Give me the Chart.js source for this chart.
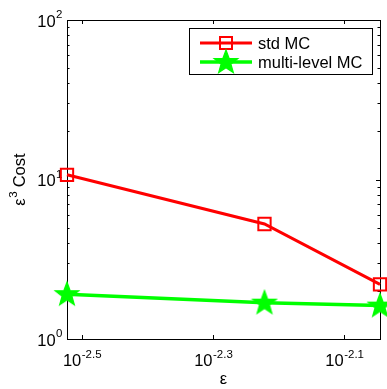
<!DOCTYPE html>
<html>
<head>
<meta charset="utf-8">
<script src="https://cdn.jsdelivr.net/npm/chart.js@4/dist/chart.umd.min.js"></script>
<style>
  html, body { margin: 0; padding: 0; background: #fff; }
  canvas { display: block; }
</style>
</head>
<body>
<canvas id="chart" width="387" height="389"></canvas>
<script>
// data
const epsValues = [0.003, 0.006, 0.009];
const stdMcCost = [10.7, 5.26, 2.2];
const mlMcCost = [1.91, 1.69, 1.62];
const seriesNames = ['std MC', 'multi-level MC'];
const xTickExps = ['-2.5', '-2.3', '-2.1'];
const yTickExps = ['0', '1', '2'];

const FONT = '"Liberation Sans", Arial, Helvetica, sans-serif';
const BIG = '16.5px ' + FONT;
const SMALL = '11.5px ' + FONT;

function toPoints(xs, ys) {
    return xs.map((x, i) => ({ x: x, y: ys[i] }));
}

// filled five point star, like matlab's pentagram marker
function starImage(color) {
    var c = document.createElement('canvas');
    c.width = 28; c.height = 28;
    var g = c.getContext('2d');
    var R = 12.5, r = 5.2;
    g.beginPath();
    for (let i = 0; i < 10; i++) {
        var rad = i % 2 ? r : R;
        var a = -Math.PI / 2 + i * Math.PI / 5;
        var px = 14 + rad * Math.cos(a), py = 14.5 + rad * Math.sin(a);
        if (i == 0) g.moveTo(px, py); else g.lineTo(px, py);
    }
    g.closePath();
    g.fillStyle = color;
    g.fill();
    g.lineWidth = 1.2;
    g.strokeStyle = color;
    g.stroke();
    return c;
}
const star = starImage('#00ff00');

// "10" with a raised exponent
function powWidth(ctx, exp) {
    ctx.font = BIG;
    var w1 = ctx.measureText('10').width;
    ctx.font = SMALL;
    return w1 + ctx.measureText(exp).width;
}
function drawPow(ctx, exp, left, base) {
    ctx.textAlign = 'left';
    ctx.textBaseline = 'alphabetic';
    ctx.font = BIG;
    ctx.fillText('10', left, base);
    var w1 = ctx.measureText('10').width;
    ctx.font = SMALL;
    ctx.fillText(exp, left + w1 + 0.5, base - 8.5);
}

const axesPlugin = {
    id: 'matlabAxes',
    beforeDatasetsDraw(chart) {
        var ctx = chart.ctx, a = chart.chartArea;
        var xs = chart.scales.x, ys = chart.scales.y;
        ctx.save();
        ctx.strokeStyle = '#000';
        ctx.lineWidth = 1;
        ctx.strokeRect(a.left + 0.5, a.top + 0.5, a.right - a.left, a.bottom - a.top);
        ctx.beginPath();
        // x ticks, inward top and bottom
        xTickExps.forEach(e => {
            var px = Math.round(xs.getPixelForValue(Math.pow(10, +e))) + 0.5;
            ctx.moveTo(px, a.bottom); ctx.lineTo(px, a.bottom - 4);
            ctx.moveTo(px, a.top); ctx.lineTo(px, a.top + 4);
        });
        // y ticks, majors and minors on both sides
        for (let d = 0; d < 2; d++) {
            for (let m = 1; m <= 10; m++) {
                var v = m * Math.pow(10, d);
                var py = Math.round(ys.getPixelForValue(v)) + 0.5;
                var len = (m == 1 || m == 10) ? 4 : 2.5;
                ctx.moveTo(a.left, py); ctx.lineTo(a.left + len, py);
                ctx.moveTo(a.right, py); ctx.lineTo(a.right - len, py);
            }
        }
        ctx.stroke();

        // tick labels
        ctx.fillStyle = '#000';
        xTickExps.forEach(e => {
            var px = xs.getPixelForValue(Math.pow(10, +e));
            var w = powWidth(ctx, e);
            drawPow(ctx, e, px - w / 2, 366);
        });
        yTickExps.forEach(e => {
            var py = ys.getPixelForValue(Math.pow(10, +e));
            var w = powWidth(ctx, e);
            drawPow(ctx, e, a.left - 5 - w, py + 6.5);
        });

        // axis titles
        ctx.font = BIG;
        ctx.textAlign = 'center';
        ctx.fillText('\u03b5', (a.left + a.right) / 2, 384);

        ctx.translate(25, (a.top + a.bottom) / 2);
        ctx.rotate(-Math.PI / 2);
        ctx.font = BIG;
        var wE = ctx.measureText('\u03b5').width;
        var wC = ctx.measureText(' Cost').width;
        ctx.font = SMALL;
        var w3 = ctx.measureText('3').width;
        var start = -(wE + w3 + wC) / 2;
        ctx.textAlign = 'left';
        ctx.font = BIG;
        ctx.fillText('\u03b5', start, 0);
        ctx.font = SMALL;
        ctx.fillText('3', start + wE + 0.5, -8.5);
        ctx.font = BIG;
        ctx.fillText(' Cost', start + wE + w3, 0);
        ctx.restore();
    },
    afterDraw(chart) {
        var ctx = chart.ctx;
        ctx.save();
        // legend box
        ctx.fillStyle = '#fff';
        ctx.fillRect(189, 28, 183, 47);
        ctx.strokeStyle = '#000';
        ctx.lineWidth = 1;
        ctx.strokeRect(189.5, 28.5, 183, 46);
        var rows = [43, 62];
        var colors = ['#ff0000', '#00ff00'];
        rows.forEach((y, i) => {
            ctx.strokeStyle = colors[i];
            ctx.lineWidth = i ? 3.5 : 3;
            ctx.beginPath();
            ctx.moveTo(200, y); ctx.lineTo(252, y);
            ctx.stroke();
        });
        ctx.strokeStyle = '#ff0000';
        ctx.lineWidth = 2;
        ctx.strokeRect(220, 37, 12, 12);
        ctx.drawImage(star, 226 - 14, 62 - 14);
        ctx.fillStyle = '#000';
        ctx.font = BIG;
        ctx.textAlign = 'left';
        ctx.fillText(seriesNames[0], 258, 48.5);
        ctx.fillText(seriesNames[1], 258, 67.5);
        ctx.restore();
    }
};

var chart = new Chart(document.getElementById('chart').getContext('2d'), {
    type: 'line',
    data: {
        datasets: [{
            label: seriesNames[0],
            data: toPoints(epsValues, stdMcCost),
            borderColor: '#ff0000',
            borderWidth: 3,
            pointStyle: 'rect',
            pointRadius: 8.7,
            pointBorderWidth: 2,
            pointBorderColor: '#ff0000',
            pointBackgroundColor: 'rgba(0,0,0,0)',
            clip: false,
        }, {
            label: seriesNames[1],
            data: toPoints(epsValues, mlMcCost),
            borderColor: '#00ff00',
            borderWidth: 3.5,
            pointStyle: star,
            pointRadius: 12,
            clip: false,
        }]
    },
    options: {
        responsive: false,
        animation: false,
        devicePixelRatio: 1,
        layout: {
            autoPadding: false,
            padding: { left: 67, top: 20, right: 7, bottom: 50 }
        },
        scales: {
            x: { type: 'logarithmic', min: 0.003, max: 0.009, display: false },
            y: { type: 'logarithmic', min: 1, max: 100, display: false }
        },
        plugins: {
            legend: { display: false },
            tooltip: { enabled: false }
        }
    },
    plugins: [axesPlugin]
});
</script>
</body>
</html>
